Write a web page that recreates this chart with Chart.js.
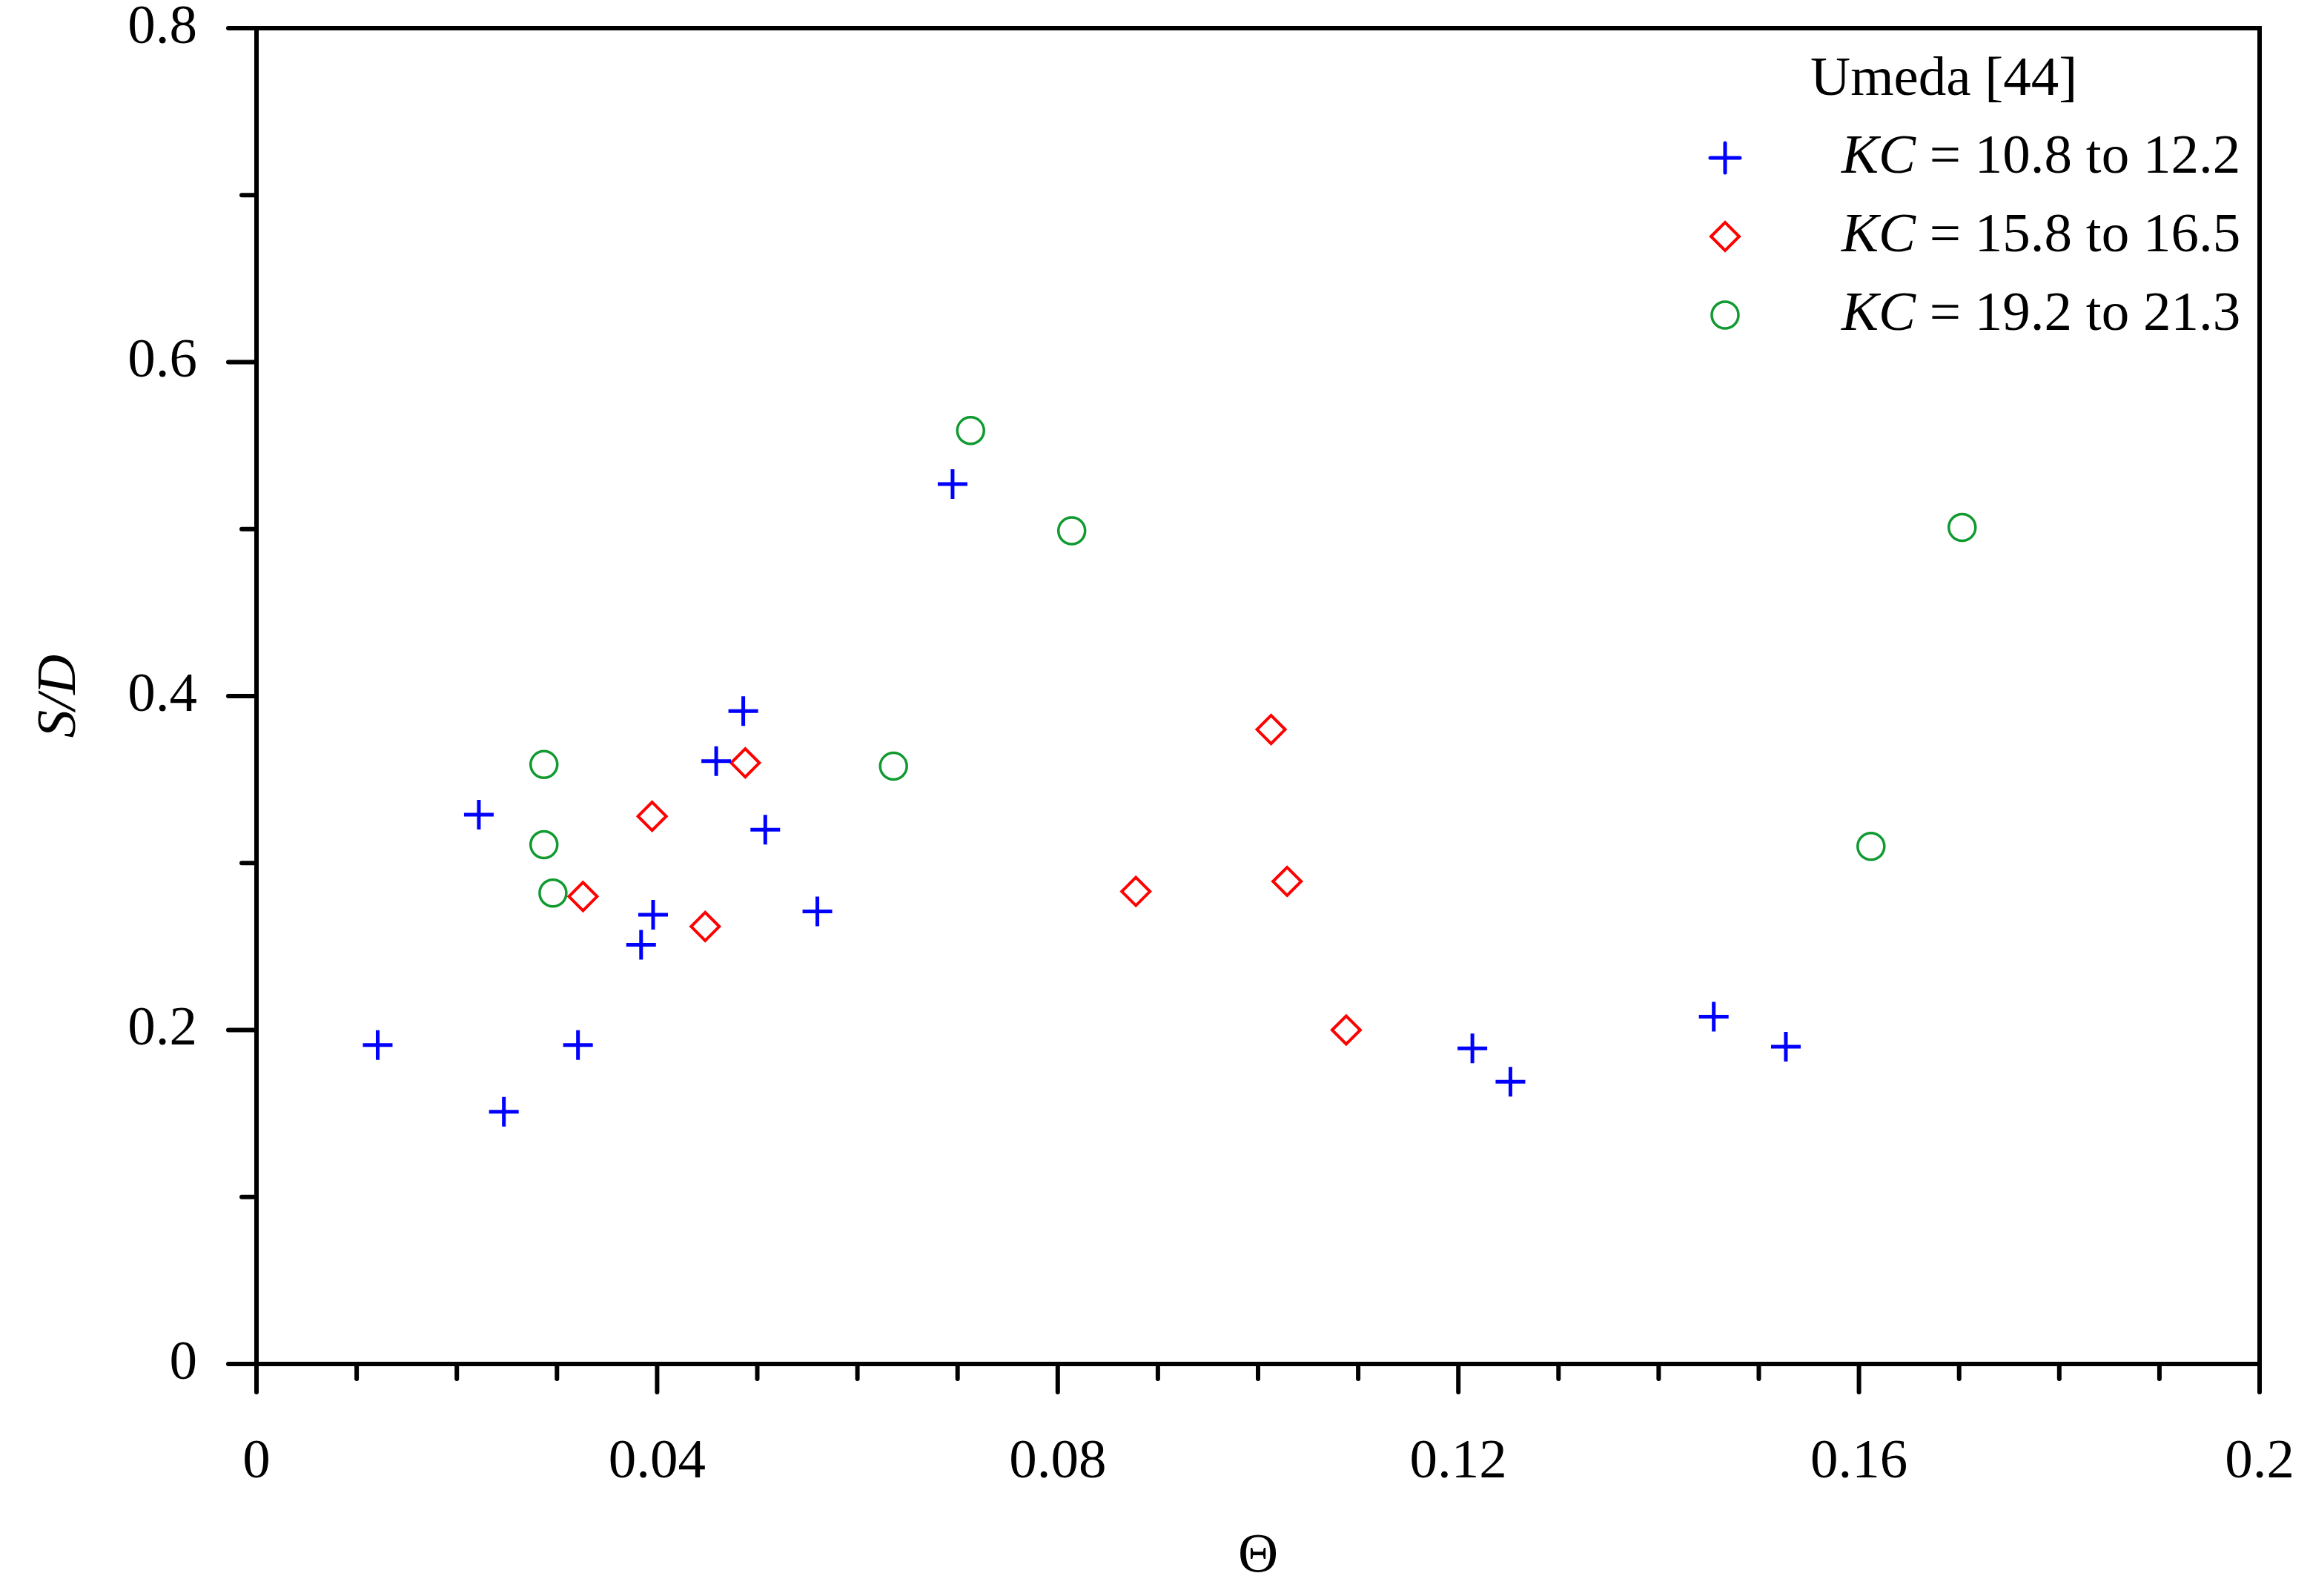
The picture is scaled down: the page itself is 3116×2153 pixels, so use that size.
<!DOCTYPE html>
<html>
<head>
<meta charset="utf-8">
<script src="https://cdn.jsdelivr.net/npm/chart.js@4/dist/chart.umd.min.js"></script>
<style>
  html, body { margin: 0; padding: 0; background: #fff; }
  #wrap { width: 3116px; height: 2153px; position: relative; }
</style>
</head>
<body>
<div id="wrap"><canvas id="scatterChart"></canvas></div>
<script>
// Datos (Umeda [44])
const kc1X = [0.0121, 0.0222, 0.0247, 0.0321, 0.0384, 0.0396, 0.0459, 0.0486, 0.0508, 0.0560, 0.0695, 0.1214, 0.1252, 0.1455, 0.1527];
const kc1Y = [0.191, 0.329, 0.151, 0.191, 0.251, 0.269, 0.361, 0.391, 0.320, 0.271, 0.527, 0.189, 0.169, 0.208, 0.190];
const kc2X = [0.0326, 0.0395, 0.0448, 0.0488, 0.0878, 0.1013, 0.1029, 0.1088];
const kc2Y = [0.280, 0.328, 0.262, 0.360, 0.283, 0.380, 0.289, 0.200];
const kc3X = [0.0287, 0.0287, 0.0296, 0.0636, 0.0713, 0.0814, 0.1612, 0.1703];
const kc3Y = [0.359, 0.311, 0.282, 0.358, 0.559, 0.499, 0.310, 0.501];

const seriesLabels = ["10.8 to 12.2", "15.8 to 16.5", "19.2 to 21.3"];
const legendTitle = "Umeda [44]";
const xTitle = "\u0398";
const yTitle = "S/D";

// Ejes
const xMin = 0, xMax = 0.2, xStep = 0.04, xMinorStep = 0.01;
const yMin = 0, yMax = 0.8, yStep = 0.2, yMinorStep = 0.1;

const FONT = "'Liberation Serif', 'Times New Roman', serif";
const FS = 75;

function toPoints(xs, ys) {
  return xs.map((x, i) => ({ x: x, y: ys[i] }));
}

const datasets = [
  {
    label: seriesLabels[0],
    data: toPoints(kc1X, kc1Y),
    pointStyle: 'cross',
    pointRadius: 20,
    pointBorderWidth: 5,
    borderColor: '#0000ff',
    backgroundColor: 'rgba(0,0,0,0)'
  },
  {
    label: seriesLabels[1],
    data: toPoints(kc2X, kc2Y),
    pointStyle: 'rectRot',
    pointRadius: 19,
    pointBorderWidth: 4,
    borderColor: '#ff0000',
    backgroundColor: 'rgba(0,0,0,0)'
  },
  {
    label: seriesLabels[2],
    data: toPoints(kc3X, kc3Y),
    pointStyle: 'circle',
    pointRadius: 18,
    pointBorderWidth: 3.5,
    borderColor: '#109a30',
    backgroundColor: 'rgba(0,0,0,0)'
  }
];

// Marco, marcas de los ejes y leyenda
const framePlugin = {
  id: 'frame',
  afterDraw(chart) {
    const ctx = chart.ctx;
    const a = chart.chartArea;
    const xs = chart.scales.x, ys = chart.scales.y;
    ctx.save();
    ctx.strokeStyle = '#000';
    ctx.lineWidth = 6;
    ctx.lineCap = 'round';
    ctx.strokeRect(a.left, a.top, a.right - a.left, a.bottom - a.top);

    // marcas del eje x
    const nx = Math.round((xMax - xMin) / xMinorStep);
    for (let i = 0; i <= nx; i++) {
      const v = xMin + i * xMinorStep;
      const px = xs.getPixelForValue(v);
      const major = i % Math.round(xStep / xMinorStep) === 0;
      ctx.beginPath();
      ctx.moveTo(px, a.bottom);
      ctx.lineTo(px, a.bottom + (major ? 38 : 20));
      ctx.stroke();
    }
    // marcas del eje y
    const ny = Math.round((yMax - yMin) / yMinorStep);
    for (let i = 0; i <= ny; i++) {
      const v = yMin + i * yMinorStep;
      const py = ys.getPixelForValue(v);
      const major = i % Math.round(yStep / yMinorStep) === 0;
      ctx.beginPath();
      ctx.moveTo(a.left, py);
      ctx.lineTo(a.left - (major ? 38 : 20), py);
      ctx.stroke();
    }

    // leyenda
    ctx.fillStyle = '#000';
    ctx.textBaseline = 'middle';
    ctx.textAlign = 'left';
    ctx.font = FS + 'px ' + FONT;
    ctx.fillText(legendTitle, 2442, 108);
    const rows = [213, 319, 425];
    chart.data.datasets.forEach((ds, i) => {
      const y = rows[i];
      const opts = {
        pointStyle: ds.pointStyle,
        radius: ds.pointRadius,
        borderWidth: ds.pointBorderWidth,
        rotation: 0
      };
      ctx.strokeStyle = ds.borderColor;
      ctx.fillStyle = 'rgba(0,0,0,0)';
      ctx.lineWidth = ds.pointBorderWidth;
      Chart.helpers.drawPoint(ctx, opts, 2327, y);
      ctx.fillStyle = '#000';
      ctx.font = 'italic ' + FS + 'px ' + FONT;
      ctx.fillText('KC', 2484, y);
      const w = ctx.measureText('KC').width;
      ctx.font = FS + 'px ' + FONT;
      ctx.fillText(' = ' + ds.label, 2484 + w, y);
    });
    ctx.restore();
  }
};

const ctx = document.getElementById('scatterChart').getContext('2d');
const scatterChart = new Chart(ctx, {
  type: 'scatter',
  data: { datasets: datasets },
  plugins: [framePlugin],
  options: {
    responsive: true,
    maintainAspectRatio: false,
    devicePixelRatio: 1,
    animation: false,
    layout: { padding: { left: 0, top: 38, right: 68, bottom: 0 } },
    plugins: {
      legend: { display: false },
      tooltip: { enabled: false }
    },
    elements: { point: { hoverRadius: 18 } },
    scales: {
      x: {
        type: 'linear',
        min: xMin,
        max: xMax,
        grid: { display: false },
        border: { display: false },
        afterFit(scale) {
          scale.height = 313;
          scale.paddingLeft = 0;
          scale.paddingRight = 0;
        },
        ticks: {
          stepSize: xStep,
          padding: 80,
          color: '#000',
          font: { family: FONT, size: FS },
          maxRotation: 0,
          callback: v => String(Number(v.toFixed(2)))
        },
        title: {
          display: true,
          text: xTitle,
          color: '#000',
          font: { family: FONT, size: FS },
          padding: { top: 0, bottom: 8 }
        }
      },
      y: {
        type: 'linear',
        min: yMin,
        max: yMax,
        grid: { display: false },
        border: { display: false },
        afterFit(scale) {
          scale.width = 346;
          scale.paddingTop = 0;
          scale.paddingBottom = 0;
        },
        ticks: {
          stepSize: yStep,
          padding: 72,
          color: '#000',
          font: { family: FONT, size: FS },
          callback: v => String(Number(v.toFixed(1)))
        },
        title: {
          display: true,
          text: yTitle,
          color: '#000',
          font: { family: FONT, size: FS, style: 'italic' },
          padding: { top: 36, bottom: 0 }
        }
      }
    }
  }
});
</script>
</body>
</html>
